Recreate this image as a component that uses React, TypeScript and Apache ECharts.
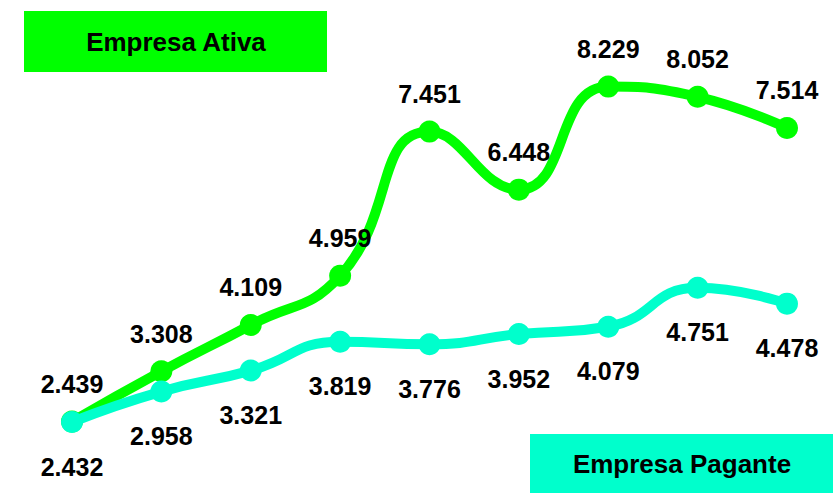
import React, { useEffect, useRef } from "react";
import * as echarts from "echarts";

const categories = ["1", "2", "3", "4", "5", "6", "7", "8", "9"];
const ativa = [2.439, 3.308, 4.109, 4.959, 7.451, 6.448, 8.229, 8.052, 7.514];
const pagante = [2.432, 2.958, 3.321, 3.819, 3.776, 3.952, 4.079, 4.751, 4.478];
const legendNames = ["Empresa Ativa", "Empresa Pagante"];

const fmt = (v: number) => v.toFixed(3);

export default function App() {
  const ref = useRef<HTMLDivElement>(null);
  useEffect(() => {
    if (!ref.current) return;
    const chart = echarts.init(ref.current, undefined, { renderer: "svg" });
    const labelFont = {
      fontFamily: "Liberation Sans, Arial, sans-serif",
      fontWeight: "bold" as const,
      fontSize: 25,
      color: "#000",
    };
    chart.setOption({
      animation: false,
      backgroundColor: "#fff",
      grid: { left: 72, right: 51, top: 42, bottom: 46 },
      xAxis: {
        type: "category",
        data: categories,
        boundaryGap: false,
        show: false,
      },
      yAxis: { type: "value", min: 2, max: 9, show: false },
      series: [
        {
          name: legendNames[0],
          type: "line",
          data: ativa,
          smooth: 0.5,
          symbol: "circle",
          symbolSize: 22,
          itemStyle: { color: "#00ff00" },
          lineStyle: { color: "#00ff00", width: 10 },
          label: {
            show: true,
            position: "top",
            distance: 14,
            formatter: (p: any) => fmt(p.value),
            ...labelFont,
          },
          z: 2,
        },
        {
          name: legendNames[1],
          type: "line",
          data: pagante,
          smooth: 0.5,
          symbol: "circle",
          symbolSize: 22,
          itemStyle: { color: "#00ffcc" },
          lineStyle: { color: "#00ffcc", width: 10 },
          label: {
            show: true,
            position: "bottom",
            distance: 21,
            formatter: (p: any) => fmt(p.value),
            ...labelFont,
          },
          z: 3,
        },
      ],
      graphic: [
        {
          type: "rect",
          shape: { x: 24, y: 11, width: 303, height: 61 },
          style: { fill: "#00ff00" },
        },
        {
          type: "text",
          x: 176,
          y: 42,
          style: {
            text: legendNames[0],
            align: "center",
            verticalAlign: "middle",
            font: "bold 26px 'Liberation Sans', Arial, sans-serif",
            fill: "#000",
          },
        },
        {
          type: "rect",
          shape: { x: 530, y: 434, width: 303, height: 60 },
          style: { fill: "#00ffcc" },
        },
        {
          type: "text",
          x: 682,
          y: 464,
          style: {
            text: legendNames[1],
            align: "center",
            verticalAlign: "middle",
            font: "bold 26px 'Liberation Sans', Arial, sans-serif",
            fill: "#000",
          },
        },
      ],
    });
    return () => chart.dispose();
  }, []);
  return (
    <div
      ref={ref}
      style={{ width: 838, height: 493, position: "absolute", left: 0, top: 0 }}
    />
  );
}
